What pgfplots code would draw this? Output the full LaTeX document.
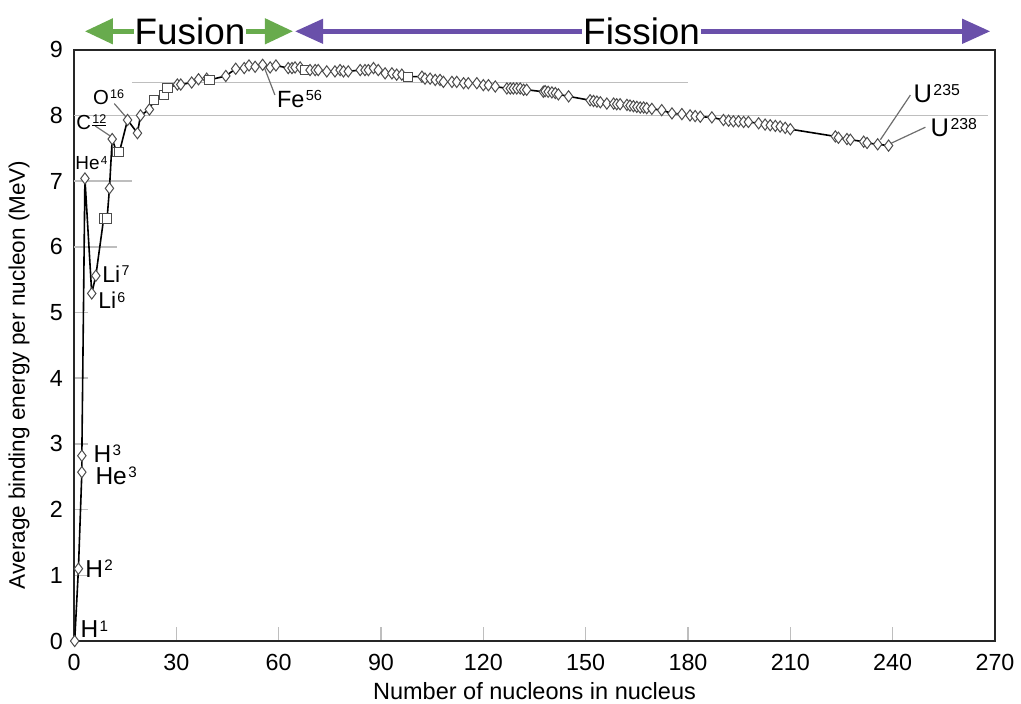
\documentclass[border=0pt]{standalone}
\usepackage{fontspec}
\setmainfont{Liberation Sans}
\usepackage{pgfplots}
\pgfplotsset{compat=1.18}
\usepackage{pgfplotstable}
\usetikzlibrary{arrows.meta}
\definecolor{fusiongreen}{RGB}{104,171,77}
\definecolor{fissionpurple}{RGB}{106,80,170}
\definecolor{gridgray}{RGB}{190,190,190}
\definecolor{leadgray}{RGB}{110,110,110}
% isotope name with small raised mass number
\newcommand{\iso}[2]{#1\kern0.06em\raisebox{0.27em}{\scalebox{0.62}{#2}}}

% mass number, binding energy per nucleon (MeV), marker class (d diamond, s square)
\pgfplotstableread{
A E m
0.2 0.00 d
1.3 1.10 d
2.3 2.57 d
2.3 2.82 d
3.2 7.04 d
5.2 5.29 d
6.4 5.56 d
8.7 6.43 s
9.7 6.43 s
10.4 6.89 d
11.2 7.64 d
12.5 7.44 s
13.3 7.44 s
15.7 7.93 d
18.6 7.73 d
19.5 8.00 d
22.1 8.09 d
23.4 8.23 s
26.5 8.31 s
27.4 8.42 s
30.3 8.47 d
31.3 8.47 d
34.5 8.50 d
36.5 8.55 d
38.9 8.56 d
39.7 8.54 s
44.5 8.60 d
47.4 8.71 d
49.9 8.72 d
51.3 8.76 d
53.1 8.74 d
55.3 8.77 d
57.5 8.73 d
59.2 8.76 d
62.8 8.72 d
63.9 8.72 d
64.8 8.73 d
66.3 8.73 d
67.7 8.69 s
69.2 8.69 d
70.7 8.69 d
71.6 8.69 d
74.1 8.67 d
76.5 8.67 d
78.0 8.69 d
79.0 8.67 d
80.4 8.67 d
83.9 8.69 d
85.3 8.69 d
86.3 8.69 d
87.8 8.72 d
89.2 8.69 d
91.2 8.64 d
93.2 8.64 d
94.6 8.62 d
96.1 8.62 d
98.0 8.59 s
102.0 8.59 d
102.9 8.56 d
104.4 8.56 d
105.9 8.54 d
107.3 8.54 d
108.3 8.51 d
110.8 8.51 d
112.2 8.51 d
114.2 8.49 d
115.6 8.49 d
118.1 8.49 d
120.0 8.46 d
121.5 8.46 d
123.5 8.44 d
126.9 8.41 d
127.9 8.41 d
128.8 8.41 d
129.8 8.41 d
130.8 8.41 d
131.8 8.39 d
132.7 8.39 d
137.6 8.36 d
138.1 8.37 d
139.0 8.36 d
140.1 8.35 d
141.1 8.34 d
142.0 8.32 d
145.0 8.29 d
151.3 8.23 d
152.3 8.22 d
153.3 8.21 d
154.3 8.20 d
156.2 8.18 d
158.2 8.18 d
159.1 8.17 d
160.1 8.17 d
162.1 8.16 d
163.0 8.15 d
164.0 8.14 d
165.0 8.13 d
166.0 8.12 d
167.0 8.12 d
167.9 8.11 d
169.4 8.10 d
172.3 8.08 d
175.3 8.03 d
178.2 8.02 d
180.6 8.00 d
182.1 7.99 d
183.6 7.98 d
187.0 7.97 d
190.4 7.93 d
191.9 7.92 d
193.3 7.91 d
194.8 7.91 d
196.3 7.90 d
197.7 7.90 d
200.7 7.88 d
202.6 7.86 d
204.1 7.85 d
205.6 7.84 d
207.0 7.83 d
208.5 7.81 d
210.0 7.79 d
223.2 7.68 d
224.1 7.66 d
226.6 7.64 d
227.6 7.63 d
231.5 7.60 d
232.5 7.58 d
235.6 7.56 d
238.8 7.54 d
}\binding

\begin{document}
\begin{tikzpicture}
\begin{axis}[
  scale only axis,
  width=460.5bp, height=295.65bp,
  xmin=0, xmax=270, ymin=0, ymax=9,
  xtick={0,30,...,270}, ytick={0,1,...,9},
  tick pos=left, tick align=inside,
  major tick length=7bp,
  tick style={gridgray, line width=0.75bp},
  axis line style={black!85, line width=1bp},
  ticklabel style={font=\fontsize{11.7}{13}\selectfont},
  /pgf/number format/assume math mode=true,
  xticklabel style={yshift=-3bp},
  yticklabel style={xshift=-2bp},
  xlabel={Number of nucleons in nucleus},
  ylabel={Average binding energy per nucleon (MeV)},
  xlabel style={font=\fontsize{11.8}{13}\selectfont, at={(rel axis cs:0.5,-0.0981)}, anchor=base},
  ylabel style={font=\fontsize{11.3}{13}\selectfont, at={(rel axis cs:-0.0597,0.45)}, anchor=center},
  clip=false,
]
% partial grid lines
\draw[gridgray, line width=0.75bp] (axis cs:0,6) -- (axis cs:12.6,6);
\draw[gridgray, line width=0.75bp] (axis cs:0,7) -- (axis cs:17,7);
\draw[gridgray, line width=0.75bp] (axis cs:0,8) -- (axis cs:268,8);
\draw[gridgray, line width=0.75bp] (axis cs:17,8.5) -- (axis cs:180,8.5);

\addplot[
  black, line width=0.8bp,
  scatter, scatter src=explicit symbolic,
  scatter/classes={
    d={mark=diamond*, mark size=2.8bp, fill=white, draw=black!70},
    s={mark=square*, mark size=2.3bp, fill=white, draw=black!70}
  },
  mark options={line width=0.5bp, solid},
] table[x=A, y=E, meta=m] {\binding};

% leader lines
\draw[leadgray, line width=0.6bp] (axis cs:6.2,7.84) -- (axis cs:11.1,7.67);
\draw[leadgray, line width=0.6bp] (axis cs:11.8,8.18) -- (axis cs:15.5,7.96);
\draw[leadgray, line width=0.6bp] (axis cs:55.5,8.77) -- (axis cs:58.9,8.31);
\draw[leadgray, line width=0.6bp] (axis cs:236.4,7.63) -- (axis cs:245.2,8.31);
\draw[leadgray, line width=0.6bp] (axis cs:239.3,7.57) -- (axis cs:249.6,7.82);

% isotope labels
\node[anchor=west, inner sep=0pt, font=\fontsize{12.3}{14}\selectfont] at (axis cs:1.8,0.18) {\iso{H}{1}};
\node[anchor=west, inner sep=0pt, font=\fontsize{12.3}{14}\selectfont] at (axis cs:3.2,1.10) {\iso{H}{2}};
\node[anchor=west, inner sep=0pt, font=\fontsize{12.3}{14}\selectfont] at (axis cs:5.6,2.85) {\iso{H}{3}};
\node[anchor=west, inner sep=0pt, font=\fontsize{12.3}{14}\selectfont] at (axis cs:6.2,2.51) {\iso{He}{3}};
\node[anchor=west, inner sep=0pt, font=\fontsize{9.5}{11}\selectfont] at (axis cs:0.3,7.27) {\iso{He}{4}};
\node[anchor=west, inner sep=0pt, font=\fontsize{11.5}{13}\selectfont] at (axis cs:8.2,5.59) {\iso{Li}{7}};
\node[anchor=west, inner sep=0pt, font=\fontsize{11.5}{13}\selectfont] at (axis cs:7.0,5.18) {\iso{Li}{6}};
\node[anchor=west, inner sep=0pt, font=\fontsize{10.2}{12}\selectfont] at (axis cs:0.6,7.90) {\iso{C}{\underline{12}}};
\node[anchor=west, inner sep=0pt, font=\fontsize{10.2}{12}\selectfont] at (axis cs:5.5,8.28) {\iso{O}{16}};
\node[anchor=west, inner sep=0pt, font=\fontsize{11.8}{13}\selectfont] at (axis cs:59.4,8.25) {\iso{Fe}{56}};
\node[anchor=west, inner sep=0pt, font=\fontsize{12.8}{14}\selectfont] at (axis cs:246.0,8.33) {\iso{U}{235}};
\node[anchor=west, inner sep=0pt, font=\fontsize{12.8}{14}\selectfont] at (axis cs:251.0,7.82) {\iso{U}{238}};

% fusion / fission arrows
\draw[fusiongreen, line width=2.2bp, {Triangle[length=14bp,width=12.5bp]}-{Triangle[length=14bp,width=12.5bp]}] (axis cs:3.2,9.28) -- (axis cs:64.2,9.28);
\node[fill=white, inner xsep=0.5bp, inner ysep=0pt, font=\fontsize{18.5}{20}\selectfont] at (axis cs:34,9.28) {Fusion};
\draw[fissionpurple, line width=2.2bp, {Triangle[length=14bp,width=12bp]}-{Triangle[length=14bp,width=12bp]}] (axis cs:64.8,9.28) -- (axis cs:268.6,9.28);
\node[fill=white, inner xsep=0.5bp, inner ysep=0pt, font=\fontsize{18.5}{20}\selectfont] at (axis cs:166.4,9.28) {Fission};

\coordinate (bl) at (rel axis cs:0,0);
\coordinate (tr) at (rel axis cs:1,1);
\end{axis}
\pgfresetboundingbox
\path ([xshift=-37bp,yshift=-31.5bp]bl) rectangle ([xshift=13bp,yshift=24.85bp]tr);
\end{tikzpicture}
\end{document}
